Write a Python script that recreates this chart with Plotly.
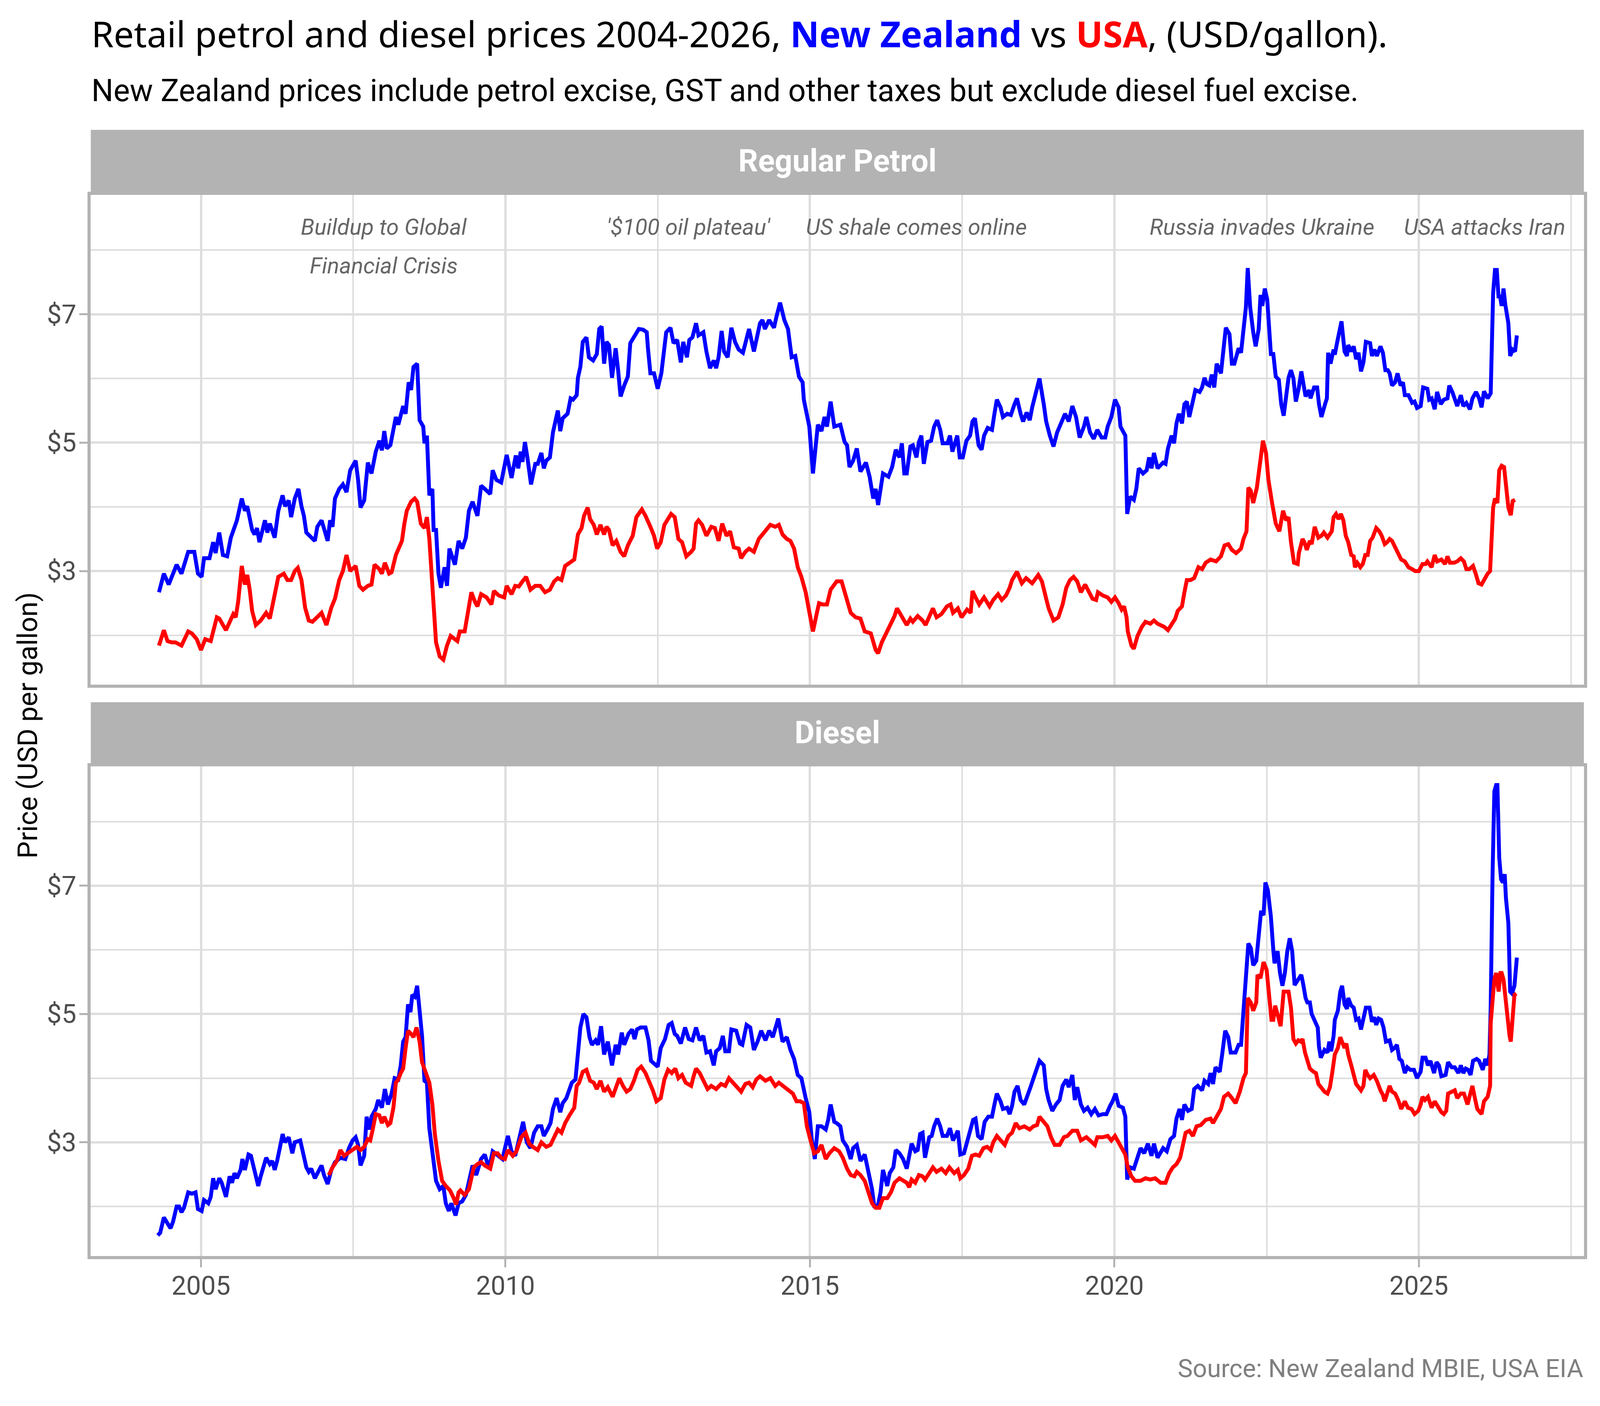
import plotly.graph_objects as go

# Weekly retail fuel prices (decimal year, USD per gallon)
nz_petrol = [
    (2004.31, 2.67), (2004.39, 2.96), (2004.47, 2.79), (2004.60, 3.10), (2004.68, 2.96), (2004.79, 3.30),
    (2004.89, 3.30), (2004.95, 2.96), (2005.01, 2.91), (2005.05, 3.20), (2005.14, 3.20), (2005.20, 3.45),
    (2005.24, 3.28), (2005.30, 3.60), (2005.36, 3.25), (2005.43, 3.23), (2005.49, 3.52), (2005.59, 3.79),
    (2005.67, 4.13), (2005.72, 3.94), (2005.76, 4.01), (2005.84, 3.64), (2005.88, 3.57), (2005.92, 3.67),
    (2005.96, 3.45), (2006.05, 3.79), (2006.09, 3.60), (2006.13, 3.74), (2006.21, 3.52), (2006.27, 3.94),
    (2006.34, 4.18), (2006.38, 4.01), (2006.44, 4.10), (2006.48, 3.84), (2006.54, 4.13), (2006.60, 4.28),
    (2006.65, 4.01), (2006.69, 3.86), (2006.73, 3.60), (2006.79, 3.55), (2006.87, 3.47), (2006.91, 3.69),
    (2006.98, 3.79), (2007.04, 3.60), (2007.08, 3.47), (2007.12, 3.79), (2007.16, 3.69), (2007.20, 4.13),
    (2007.27, 4.28), (2007.33, 4.35), (2007.39, 4.23), (2007.45, 4.57), (2007.54, 4.72), (2007.58, 4.42),
    (2007.62, 3.99), (2007.68, 4.10), (2007.74, 4.69), (2007.80, 4.52), (2007.87, 4.86), (2007.93, 5.03),
    (2007.97, 4.88), (2008.01, 5.18), (2008.05, 4.91), (2008.11, 4.96), (2008.16, 5.25), (2008.20, 5.40),
    (2008.24, 5.28), (2008.28, 5.45), (2008.32, 5.57), (2008.36, 5.45), (2008.41, 5.94), (2008.45, 5.82),
    (2008.49, 6.18), (2008.55, 6.23), (2008.59, 5.35), (2008.65, 5.25), (2008.67, 4.99), (2008.71, 5.11),
    (2008.75, 4.18), (2008.80, 4.28), (2008.82, 3.64), (2008.86, 3.64), (2008.90, 2.96), (2008.94, 2.74),
    (2009.00, 3.06), (2009.04, 2.77), (2009.08, 3.35), (2009.17, 3.10), (2009.23, 3.47), (2009.29, 3.35),
    (2009.35, 3.52), (2009.40, 3.94), (2009.46, 4.08), (2009.54, 3.86), (2009.60, 4.33), (2009.66, 4.28),
    (2009.75, 4.20), (2009.79, 4.57), (2009.85, 4.42), (2009.93, 4.38), (2010.02, 4.81), (2010.10, 4.45),
    (2010.17, 4.80), (2010.21, 4.60), (2010.25, 4.86), (2010.28, 4.70), (2010.32, 5.01), (2010.36, 4.77),
    (2010.42, 4.35), (2010.49, 4.67), (2010.53, 4.67), (2010.59, 4.84), (2010.63, 4.60), (2010.67, 4.72),
    (2010.73, 4.77), (2010.78, 5.16), (2010.86, 5.50), (2010.90, 5.18), (2010.94, 5.38), (2011.02, 5.45),
    (2011.07, 5.69), (2011.11, 5.67), (2011.17, 5.74), (2011.19, 6.01), (2011.23, 6.18), (2011.27, 6.57),
    (2011.33, 6.64), (2011.37, 6.33), (2011.44, 6.28), (2011.50, 6.38), (2011.54, 6.77), (2011.58, 6.81),
    (2011.62, 6.23), (2011.66, 6.57), (2011.70, 6.52), (2011.75, 6.01), (2011.81, 6.47), (2011.85, 6.13),
    (2011.89, 5.72), (2011.95, 5.89), (2012.01, 6.03), (2012.05, 6.55), (2012.13, 6.69), (2012.19, 6.77),
    (2012.26, 6.76), (2012.32, 6.72), (2012.34, 6.47), (2012.38, 6.08), (2012.44, 6.08), (2012.50, 5.84),
    (2012.56, 6.08), (2012.60, 6.47), (2012.64, 6.72), (2012.71, 6.79), (2012.76, 6.55), (2012.82, 6.60),
    (2012.88, 6.25), (2012.92, 6.57), (2012.98, 6.33), (2013.02, 6.60), (2013.07, 6.64), (2013.13, 6.86),
    (2013.17, 6.67), (2013.25, 6.72), (2013.30, 6.42), (2013.36, 6.16), (2013.42, 6.28), (2013.46, 6.16),
    (2013.50, 6.33), (2013.55, 6.74), (2013.59, 6.42), (2013.65, 6.33), (2013.71, 6.79), (2013.77, 6.57),
    (2013.83, 6.45), (2013.90, 6.40), (2013.96, 6.64), (2014.00, 6.77), (2014.08, 6.42), (2014.12, 6.60),
    (2014.18, 6.86), (2014.22, 6.91), (2014.26, 6.77), (2014.33, 6.91), (2014.41, 6.79), (2014.45, 6.96),
    (2014.51, 7.18), (2014.58, 6.91), (2014.64, 6.77), (2014.70, 6.33), (2014.76, 6.35), (2014.82, 6.03),
    (2014.88, 5.94), (2014.90, 5.67), (2014.95, 5.45), (2014.99, 5.25), (2015.05, 4.52), (2015.09, 4.86),
    (2015.13, 5.28), (2015.19, 5.18), (2015.24, 5.40), (2015.28, 5.25), (2015.34, 5.64), (2015.40, 5.25),
    (2015.50, 5.28), (2015.57, 5.01), (2015.61, 4.96), (2015.65, 4.62), (2015.71, 4.72), (2015.77, 4.91),
    (2015.83, 4.55), (2015.92, 4.69), (2015.98, 4.47), (2016.04, 4.13), (2016.08, 4.28), (2016.12, 4.03),
    (2016.20, 4.52), (2016.29, 4.47), (2016.35, 4.62), (2016.41, 4.89), (2016.47, 4.77), (2016.51, 4.99),
    (2016.55, 4.52), (2016.59, 4.52), (2016.65, 4.94), (2016.69, 4.96), (2016.75, 4.77), (2016.79, 5.01),
    (2016.83, 5.11), (2016.87, 4.67), (2016.93, 5.01), (2016.99, 5.03), (2017.04, 5.25), (2017.09, 5.35),
    (2017.14, 5.20), (2017.18, 4.99), (2017.26, 4.99), (2017.30, 5.11), (2017.34, 4.86), (2017.42, 5.11),
    (2017.46, 4.77), (2017.51, 4.77), (2017.57, 5.03), (2017.63, 5.11), (2017.67, 5.33), (2017.71, 5.38),
    (2017.77, 4.96), (2017.82, 4.89), (2017.86, 5.11), (2017.92, 5.23), (2017.99, 5.20), (2018.03, 5.45),
    (2018.07, 5.67), (2018.13, 5.55), (2018.17, 5.40), (2018.24, 5.45), (2018.30, 5.43), (2018.36, 5.60),
    (2018.40, 5.69), (2018.46, 5.45), (2018.50, 5.33), (2018.56, 5.47), (2018.61, 5.35), (2018.65, 5.55),
    (2018.71, 5.77), (2018.77, 6.00), (2018.84, 5.60), (2018.88, 5.33), (2018.94, 5.11), (2019.00, 4.94),
    (2019.06, 5.16), (2019.12, 5.30), (2019.19, 5.45), (2019.25, 5.33), (2019.31, 5.57), (2019.37, 5.40),
    (2019.43, 5.08), (2019.50, 5.25), (2019.54, 5.40), (2019.60, 5.16), (2019.66, 5.06), (2019.72, 5.20),
    (2019.79, 5.08), (2019.85, 5.08), (2019.89, 5.25), (2019.95, 5.40), (2020.01, 5.67), (2020.07, 5.55),
    (2020.10, 5.25), (2020.18, 5.11), (2020.21, 3.89), (2020.26, 4.16), (2020.32, 4.11), (2020.36, 4.28),
    (2020.40, 4.60), (2020.47, 4.52), (2020.53, 4.57), (2020.57, 4.77), (2020.61, 4.60), (2020.65, 4.84),
    (2020.71, 4.60), (2020.80, 4.69), (2020.84, 4.67), (2020.88, 4.91), (2020.94, 5.11), (2020.98, 4.99),
    (2021.02, 5.30), (2021.06, 5.45), (2021.11, 5.30), (2021.15, 5.60), (2021.19, 5.64), (2021.23, 5.40),
    (2021.29, 5.69), (2021.33, 5.82), (2021.40, 5.79), (2021.44, 5.86), (2021.48, 6.01), (2021.52, 5.91),
    (2021.56, 5.89), (2021.60, 6.06), (2021.64, 5.86), (2021.68, 6.23), (2021.75, 6.08), (2021.79, 6.52),
    (2021.83, 6.79), (2021.89, 6.69), (2021.93, 6.23), (2021.97, 6.23), (2022.04, 6.47), (2022.08, 6.40),
    (2022.12, 6.77), (2022.16, 7.11), (2022.19, 7.72), (2022.23, 7.11), (2022.28, 6.72), (2022.32, 6.50),
    (2022.37, 6.77), (2022.40, 7.30), (2022.43, 7.13), (2022.47, 7.40), (2022.51, 7.23), (2022.55, 6.77),
    (2022.57, 6.38), (2022.61, 6.38), (2022.65, 6.03), (2022.70, 5.98), (2022.74, 5.60), (2022.78, 5.42),
    (2022.82, 5.74), (2022.86, 6.01), (2022.90, 6.13), (2022.94, 6.00), (2022.98, 5.64), (2023.01, 5.77),
    (2023.03, 5.86), (2023.07, 6.11), (2023.10, 5.91), (2023.14, 5.72), (2023.20, 5.82), (2023.22, 5.69),
    (2023.28, 5.86), (2023.33, 5.86), (2023.36, 5.60), (2023.40, 5.40), (2023.46, 5.60), (2023.49, 5.69),
    (2023.51, 6.40), (2023.55, 6.23), (2023.60, 6.45), (2023.62, 6.37), (2023.66, 6.57), (2023.71, 6.84),
    (2023.73, 6.89), (2023.78, 6.42), (2023.82, 6.35), (2023.84, 6.52), (2023.89, 6.42), (2023.93, 6.50),
    (2023.97, 6.30), (2024.01, 6.40), (2024.05, 6.11), (2024.09, 6.25), (2024.13, 6.57), (2024.20, 6.55),
    (2024.23, 6.35), (2024.27, 6.45), (2024.31, 6.35), (2024.37, 6.50), (2024.41, 6.40), (2024.45, 6.13),
    (2024.49, 6.13), (2024.52, 6.08), (2024.56, 5.89), (2024.61, 5.94), (2024.65, 6.08), (2024.70, 5.89),
    (2024.74, 5.94), (2024.77, 5.74), (2024.83, 5.74), (2024.89, 5.62), (2024.93, 5.64), (2024.97, 5.54),
    (2025.03, 5.57), (2025.07, 5.86), (2025.14, 5.84), (2025.17, 5.67), (2025.21, 5.69), (2025.26, 5.52),
    (2025.30, 5.79), (2025.36, 5.60), (2025.41, 5.67), (2025.47, 5.69), (2025.50, 5.89), (2025.55, 5.79),
    (2025.59, 5.69), (2025.63, 5.57), (2025.69, 5.74), (2025.73, 5.57), (2025.78, 5.62), (2025.84, 5.52),
    (2025.88, 5.69), (2025.94, 5.79), (2025.99, 5.69), (2026.03, 5.55), (2026.07, 5.80), (2026.13, 5.69),
    (2026.18, 5.77), (2026.21, 6.96), (2026.22, 7.33), (2026.25, 7.69), (2026.28, 7.69), (2026.31, 7.25),
    (2026.33, 7.30), (2026.36, 7.13), (2026.39, 7.40), (2026.42, 7.15), (2026.44, 7.05), (2026.47, 6.86),
    (2026.50, 6.35), (2026.54, 6.45), (2026.58, 6.42), (2026.61, 6.67),
]

usa_petrol = [
    (2004.31, 1.84), (2004.39, 2.08), (2004.45, 1.91), (2004.52, 1.89), (2004.58, 1.89), (2004.68, 1.84),
    (2004.79, 2.06), (2004.85, 2.03), (2004.93, 1.94), (2005.00, 1.77), (2005.07, 1.94), (2005.16, 1.91),
    (2005.26, 2.28), (2005.30, 2.26), (2005.41, 2.08), (2005.49, 2.26), (2005.53, 2.33), (2005.57, 2.28),
    (2005.61, 2.52), (2005.67, 3.08), (2005.72, 2.79), (2005.76, 2.94), (2005.80, 2.71), (2005.84, 2.38),
    (2005.90, 2.16), (2005.98, 2.23), (2006.07, 2.35), (2006.13, 2.26), (2006.19, 2.52), (2006.27, 2.91),
    (2006.36, 2.96), (2006.42, 2.86), (2006.48, 2.86), (2006.54, 3.00), (2006.59, 3.05), (2006.65, 2.86),
    (2006.71, 2.43), (2006.77, 2.23), (2006.83, 2.21), (2006.91, 2.28), (2006.98, 2.35), (2007.06, 2.16),
    (2007.14, 2.43), (2007.20, 2.57), (2007.27, 2.86), (2007.33, 3.00), (2007.39, 3.25), (2007.45, 3.00),
    (2007.54, 3.08), (2007.60, 2.77), (2007.66, 2.71), (2007.74, 2.77), (2007.80, 2.79), (2007.85, 3.10),
    (2007.93, 3.03), (2007.97, 2.96), (2008.02, 3.13), (2008.09, 2.96), (2008.13, 2.98), (2008.20, 3.25),
    (2008.24, 3.33), (2008.30, 3.47), (2008.34, 3.74), (2008.38, 3.94), (2008.45, 4.08), (2008.51, 4.13),
    (2008.55, 4.08), (2008.61, 3.74), (2008.67, 3.67), (2008.71, 3.84), (2008.75, 3.50), (2008.80, 2.81),
    (2008.86, 1.89), (2008.92, 1.67), (2008.98, 1.62), (2009.04, 1.84), (2009.10, 1.99), (2009.21, 1.91),
    (2009.25, 2.06), (2009.33, 2.06), (2009.37, 2.28), (2009.44, 2.67), (2009.50, 2.52), (2009.54, 2.45),
    (2009.60, 2.64), (2009.69, 2.59), (2009.77, 2.48), (2009.81, 2.69), (2009.89, 2.62), (2009.98, 2.59),
    (2010.02, 2.77), (2010.10, 2.64), (2010.16, 2.77), (2010.22, 2.76), (2010.28, 2.84), (2010.34, 2.91),
    (2010.41, 2.71), (2010.49, 2.77), (2010.57, 2.77), (2010.65, 2.67), (2010.73, 2.71), (2010.80, 2.84),
    (2010.86, 2.89), (2010.92, 2.86), (2010.98, 3.08), (2011.07, 3.13), (2011.13, 3.18), (2011.19, 3.57),
    (2011.25, 3.67), (2011.29, 3.86), (2011.35, 3.99), (2011.39, 3.81), (2011.45, 3.72), (2011.50, 3.57),
    (2011.56, 3.72), (2011.62, 3.57), (2011.66, 3.69), (2011.70, 3.64), (2011.76, 3.40), (2011.82, 3.47),
    (2011.89, 3.30), (2011.95, 3.23), (2012.01, 3.40), (2012.09, 3.55), (2012.15, 3.84), (2012.24, 3.96),
    (2012.30, 3.86), (2012.38, 3.69), (2012.44, 3.55), (2012.49, 3.35), (2012.55, 3.45), (2012.61, 3.72),
    (2012.65, 3.79), (2012.72, 3.89), (2012.78, 3.84), (2012.84, 3.50), (2012.90, 3.45), (2012.97, 3.23),
    (2013.05, 3.30), (2013.09, 3.35), (2013.13, 3.74), (2013.17, 3.79), (2013.23, 3.72), (2013.30, 3.55),
    (2013.38, 3.69), (2013.44, 3.67), (2013.50, 3.47), (2013.56, 3.74), (2013.63, 3.55), (2013.69, 3.62),
    (2013.75, 3.37), (2013.83, 3.35), (2013.87, 3.20), (2013.94, 3.30), (2014.00, 3.35), (2014.08, 3.30),
    (2014.16, 3.50), (2014.22, 3.57), (2014.29, 3.67), (2014.35, 3.72), (2014.43, 3.69), (2014.49, 3.72),
    (2014.55, 3.57), (2014.62, 3.50), (2014.68, 3.47), (2014.74, 3.35), (2014.80, 3.06), (2014.86, 2.91),
    (2014.93, 2.67), (2014.99, 2.33), (2015.05, 2.06), (2015.11, 2.33), (2015.15, 2.50), (2015.21, 2.48),
    (2015.28, 2.48), (2015.34, 2.71), (2015.44, 2.84), (2015.52, 2.84), (2015.61, 2.55), (2015.67, 2.35),
    (2015.75, 2.28), (2015.83, 2.26), (2015.90, 2.06), (2016.00, 2.03), (2016.08, 1.77), (2016.12, 1.72),
    (2016.18, 1.89), (2016.25, 2.03), (2016.33, 2.18), (2016.39, 2.30), (2016.43, 2.42), (2016.51, 2.28),
    (2016.59, 2.16), (2016.65, 2.26), (2016.69, 2.21), (2016.77, 2.30), (2016.85, 2.23), (2016.90, 2.16),
    (2016.96, 2.28), (2017.02, 2.42), (2017.08, 2.28), (2017.16, 2.33), (2017.25, 2.45), (2017.31, 2.48),
    (2017.35, 2.35), (2017.43, 2.42), (2017.49, 2.28), (2017.58, 2.40), (2017.64, 2.35), (2017.67, 2.69),
    (2017.72, 2.59), (2017.78, 2.48), (2017.86, 2.59), (2017.95, 2.45), (2018.01, 2.55), (2018.09, 2.64),
    (2018.15, 2.55), (2018.22, 2.62), (2018.28, 2.74), (2018.32, 2.86), (2018.40, 2.99), (2018.48, 2.81),
    (2018.55, 2.89), (2018.65, 2.81), (2018.75, 2.94), (2018.81, 2.84), (2018.88, 2.57), (2018.92, 2.42),
    (2019.00, 2.23), (2019.08, 2.28), (2019.15, 2.48), (2019.21, 2.74), (2019.27, 2.86), (2019.33, 2.91),
    (2019.39, 2.84), (2019.45, 2.67), (2019.52, 2.79), (2019.58, 2.67), (2019.64, 2.57), (2019.70, 2.55),
    (2019.73, 2.67), (2019.81, 2.62), (2019.89, 2.59), (2019.95, 2.52), (2020.01, 2.59), (2020.07, 2.50),
    (2020.12, 2.40), (2020.16, 2.45), (2020.20, 2.28), (2020.22, 2.06), (2020.28, 1.84), (2020.32, 1.79),
    (2020.38, 1.99), (2020.45, 2.13), (2020.51, 2.21), (2020.59, 2.18), (2020.65, 2.23), (2020.71, 2.18),
    (2020.82, 2.13), (2020.88, 2.08), (2020.94, 2.16), (2021.00, 2.26), (2021.04, 2.38), (2021.11, 2.45),
    (2021.15, 2.67), (2021.19, 2.86), (2021.25, 2.86), (2021.31, 2.89), (2021.38, 3.06), (2021.44, 3.03),
    (2021.50, 3.13), (2021.58, 3.18), (2021.67, 3.15), (2021.75, 3.23), (2021.81, 3.40), (2021.87, 3.42),
    (2021.93, 3.33), (2022.00, 3.28), (2022.08, 3.35), (2022.12, 3.50), (2022.17, 3.62), (2022.20, 4.30),
    (2022.24, 4.25), (2022.28, 4.06), (2022.34, 4.30), (2022.39, 4.62), (2022.44, 5.03), (2022.49, 4.84),
    (2022.53, 4.42), (2022.59, 4.06), (2022.65, 3.74), (2022.71, 3.62), (2022.77, 3.94), (2022.82, 3.79),
    (2022.86, 3.84), (2022.90, 3.45), (2022.95, 3.13), (2023.01, 3.11), (2023.03, 3.28), (2023.09, 3.50),
    (2023.12, 3.45), (2023.16, 3.33), (2023.21, 3.47), (2023.24, 3.42), (2023.29, 3.69), (2023.35, 3.52),
    (2023.40, 3.55), (2023.44, 3.60), (2023.50, 3.52), (2023.57, 3.62), (2023.60, 3.84), (2023.64, 3.89),
    (2023.68, 3.81), (2023.72, 3.89), (2023.76, 3.79), (2023.80, 3.55), (2023.84, 3.45), (2023.89, 3.25),
    (2023.93, 3.23), (2023.95, 3.06), (2023.99, 3.13), (2024.04, 3.06), (2024.08, 3.11), (2024.12, 3.25),
    (2024.16, 3.25), (2024.20, 3.47), (2024.24, 3.52), (2024.30, 3.67), (2024.35, 3.62), (2024.39, 3.55),
    (2024.44, 3.42), (2024.48, 3.45), (2024.52, 3.50), (2024.56, 3.47), (2024.61, 3.37), (2024.65, 3.30),
    (2024.71, 3.18), (2024.77, 3.15), (2024.83, 3.06), (2024.89, 3.03), (2024.94, 3.00), (2025.00, 3.00),
    (2025.06, 3.11), (2025.11, 3.11), (2025.14, 3.15), (2025.21, 3.06), (2025.26, 3.25), (2025.30, 3.15),
    (2025.37, 3.18), (2025.43, 3.11), (2025.47, 3.23), (2025.51, 3.13), (2025.58, 3.13), (2025.63, 3.15),
    (2025.69, 3.20), (2025.74, 3.15), (2025.78, 3.03), (2025.83, 3.03), (2025.89, 3.08), (2025.94, 2.94),
    (2025.98, 2.81), (2026.03, 2.79), (2026.07, 2.86), (2026.13, 2.96), (2026.17, 3.00), (2026.20, 3.55),
    (2026.22, 3.99), (2026.25, 4.13), (2026.29, 4.06), (2026.32, 4.57), (2026.36, 4.64), (2026.40, 4.62),
    (2026.43, 4.30), (2026.47, 3.99), (2026.51, 3.87), (2026.54, 4.09), (2026.58, 4.11),
]

nz_diesel = [
    (2004.29, 1.55), (2004.33, 1.59), (2004.39, 1.83), (2004.45, 1.74), (2004.50, 1.66), (2004.54, 1.76),
    (2004.60, 2.00), (2004.64, 2.00), (2004.68, 1.91), (2004.72, 1.98), (2004.79, 2.22), (2004.85, 2.20),
    (2004.91, 2.22), (2004.95, 1.96), (2005.01, 1.93), (2005.05, 2.10), (2005.12, 2.05), (2005.16, 2.15),
    (2005.20, 2.44), (2005.24, 2.27), (2005.30, 2.44), (2005.34, 2.37), (2005.41, 2.15), (2005.47, 2.47),
    (2005.51, 2.37), (2005.55, 2.52), (2005.59, 2.44), (2005.65, 2.57), (2005.68, 2.74), (2005.72, 2.57),
    (2005.78, 2.81), (2005.82, 2.79), (2005.88, 2.52), (2005.94, 2.32), (2005.98, 2.47), (2006.03, 2.61),
    (2006.07, 2.76), (2006.13, 2.66), (2006.17, 2.71), (2006.21, 2.57), (2006.25, 2.71), (2006.32, 3.03),
    (2006.34, 3.13), (2006.38, 3.00), (2006.44, 3.08), (2006.50, 2.83), (2006.54, 3.00), (2006.63, 3.03),
    (2006.67, 2.88), (2006.73, 2.61), (2006.77, 2.54), (2006.81, 2.59), (2006.87, 2.44), (2006.94, 2.57),
    (2006.98, 2.64), (2007.02, 2.49), (2007.08, 2.35), (2007.14, 2.57), (2007.20, 2.69), (2007.29, 2.76),
    (2007.37, 2.74), (2007.43, 2.91), (2007.49, 3.03), (2007.54, 3.08), (2007.58, 2.96), (2007.62, 2.64),
    (2007.68, 2.79), (2007.72, 3.40), (2007.76, 3.20), (2007.80, 3.40), (2007.87, 3.52), (2007.91, 3.66),
    (2007.97, 3.54), (2008.02, 3.83), (2008.07, 3.59), (2008.13, 3.76), (2008.18, 4.00), (2008.24, 3.98),
    (2008.28, 4.20), (2008.32, 4.57), (2008.36, 4.64), (2008.40, 5.15), (2008.44, 5.03), (2008.47, 5.30),
    (2008.51, 5.27), (2008.55, 5.44), (2008.59, 4.96), (2008.63, 4.66), (2008.67, 3.96), (2008.71, 3.93),
    (2008.75, 3.22), (2008.80, 2.79), (2008.86, 2.40), (2008.92, 2.27), (2008.98, 2.32), (2009.02, 2.05),
    (2009.07, 1.93), (2009.11, 2.05), (2009.18, 1.86), (2009.23, 2.05), (2009.29, 2.08), (2009.35, 2.18),
    (2009.40, 2.42), (2009.46, 2.64), (2009.52, 2.49), (2009.60, 2.74), (2009.66, 2.81), (2009.73, 2.59),
    (2009.79, 2.86), (2009.85, 2.81), (2009.95, 2.74), (2010.04, 3.10), (2010.10, 2.86), (2010.16, 2.79),
    (2010.24, 3.15), (2010.29, 3.32), (2010.35, 3.00), (2010.41, 2.91), (2010.47, 3.15), (2010.53, 3.25),
    (2010.59, 3.25), (2010.63, 3.10), (2010.70, 3.22), (2010.74, 3.30), (2010.78, 3.52), (2010.84, 3.69),
    (2010.90, 3.47), (2010.94, 3.61), (2011.00, 3.69), (2011.05, 3.81), (2011.09, 3.93), (2011.15, 3.98),
    (2011.19, 4.42), (2011.23, 4.79), (2011.28, 5.00), (2011.33, 4.95), (2011.38, 4.64), (2011.42, 4.52),
    (2011.48, 4.59), (2011.52, 4.52), (2011.57, 4.81), (2011.62, 4.37), (2011.68, 4.57), (2011.75, 4.20),
    (2011.81, 4.52), (2011.85, 4.37), (2011.91, 4.71), (2011.95, 4.52), (2012.02, 4.69), (2012.08, 4.76),
    (2012.12, 4.61), (2012.16, 4.76), (2012.22, 4.79), (2012.30, 4.79), (2012.35, 4.59), (2012.39, 4.27),
    (2012.45, 4.22), (2012.50, 4.18), (2012.55, 4.47), (2012.62, 4.61), (2012.68, 4.83), (2012.73, 4.86),
    (2012.78, 4.69), (2012.82, 4.66), (2012.88, 4.54), (2012.95, 4.79), (2013.01, 4.61), (2013.07, 4.59),
    (2013.13, 4.79), (2013.19, 4.59), (2013.25, 4.66), (2013.30, 4.40), (2013.36, 4.42), (2013.42, 4.20),
    (2013.46, 4.42), (2013.52, 4.47), (2013.57, 4.66), (2013.61, 4.42), (2013.67, 4.42), (2013.71, 4.76),
    (2013.79, 4.74), (2013.85, 4.54), (2013.89, 4.52), (2013.96, 4.83), (2014.02, 4.79), (2014.08, 4.44),
    (2014.14, 4.57), (2014.20, 4.74), (2014.27, 4.59), (2014.33, 4.74), (2014.39, 4.64), (2014.43, 4.76),
    (2014.48, 4.93), (2014.55, 4.57), (2014.62, 4.64), (2014.68, 4.44), (2014.74, 4.30), (2014.80, 4.05),
    (2014.86, 4.00), (2014.93, 3.69), (2014.99, 3.47), (2015.03, 3.05), (2015.08, 2.74), (2015.13, 3.25),
    (2015.19, 3.25), (2015.26, 3.20), (2015.30, 3.35), (2015.34, 3.59), (2015.40, 3.32), (2015.44, 3.30),
    (2015.50, 3.25), (2015.54, 3.03), (2015.61, 2.93), (2015.67, 2.74), (2015.71, 2.91), (2015.77, 2.96),
    (2015.83, 2.71), (2015.90, 2.81), (2015.94, 2.61), (2015.98, 2.42), (2016.02, 2.27), (2016.06, 1.98),
    (2016.12, 2.03), (2016.16, 2.22), (2016.20, 2.57), (2016.27, 2.32), (2016.31, 2.52), (2016.37, 2.61),
    (2016.41, 2.88), (2016.47, 2.83), (2016.53, 2.74), (2016.59, 2.59), (2016.63, 2.83), (2016.67, 2.98),
    (2016.73, 2.86), (2016.77, 2.88), (2016.81, 3.13), (2016.85, 3.15), (2016.89, 2.76), (2016.96, 3.08),
    (2017.00, 3.10), (2017.04, 3.25), (2017.09, 3.37), (2017.14, 3.25), (2017.18, 3.10), (2017.25, 3.10),
    (2017.30, 3.22), (2017.35, 3.03), (2017.43, 3.18), (2017.47, 2.81), (2017.53, 2.83), (2017.60, 3.10),
    (2017.64, 3.20), (2017.68, 3.35), (2017.72, 3.37), (2017.76, 3.10), (2017.82, 3.05), (2017.87, 3.32),
    (2017.93, 3.40), (2017.99, 3.40), (2018.03, 3.59), (2018.07, 3.76), (2018.13, 3.64), (2018.17, 3.52),
    (2018.24, 3.54), (2018.28, 3.44), (2018.32, 3.57), (2018.36, 3.79), (2018.41, 3.88), (2018.46, 3.66),
    (2018.52, 3.59), (2018.57, 3.71), (2018.63, 3.88), (2018.69, 4.05), (2018.73, 4.15), (2018.77, 4.27),
    (2018.84, 4.20), (2018.88, 3.83), (2018.92, 3.66), (2018.98, 3.49), (2019.04, 3.59), (2019.10, 3.66),
    (2019.15, 3.88), (2019.21, 3.98), (2019.25, 3.86), (2019.31, 4.05), (2019.35, 3.66), (2019.39, 3.86),
    (2019.45, 3.59), (2019.50, 3.49), (2019.56, 3.54), (2019.62, 3.44), (2019.68, 3.52), (2019.74, 3.42),
    (2019.81, 3.44), (2019.87, 3.44), (2019.93, 3.57), (2019.97, 3.64), (2020.02, 3.76), (2020.07, 3.57),
    (2020.14, 3.54), (2020.18, 3.40), (2020.21, 2.42), (2020.26, 2.61), (2020.32, 2.59), (2020.36, 2.71),
    (2020.43, 2.91), (2020.49, 2.83), (2020.55, 2.98), (2020.61, 2.79), (2020.65, 2.98), (2020.71, 2.76),
    (2020.80, 2.91), (2020.86, 2.86), (2020.92, 3.05), (2020.98, 3.10), (2021.02, 3.37), (2021.07, 3.52),
    (2021.11, 3.35), (2021.15, 3.59), (2021.21, 3.49), (2021.27, 3.52), (2021.31, 3.83), (2021.37, 3.88),
    (2021.44, 3.81), (2021.48, 3.96), (2021.54, 3.91), (2021.58, 4.08), (2021.62, 3.91), (2021.66, 4.17),
    (2021.73, 4.10), (2021.77, 4.37), (2021.82, 4.74), (2021.87, 4.64), (2021.91, 4.40), (2021.99, 4.40),
    (2022.04, 4.52), (2022.08, 4.52), (2022.12, 5.00), (2022.16, 5.59), (2022.20, 6.10), (2022.24, 6.03),
    (2022.28, 5.76), (2022.33, 5.83), (2022.37, 6.18), (2022.41, 6.61), (2022.45, 6.54), (2022.48, 7.05),
    (2022.52, 6.93), (2022.57, 6.52), (2022.61, 6.00), (2022.63, 5.79), (2022.68, 5.98), (2022.72, 5.64),
    (2022.76, 5.44), (2022.80, 5.64), (2022.84, 5.98), (2022.88, 6.18), (2022.92, 5.98), (2022.96, 5.45),
    (2023.02, 5.54), (2023.07, 5.61), (2023.10, 5.47), (2023.14, 5.25), (2023.17, 5.18), (2023.21, 5.18),
    (2023.24, 5.00), (2023.29, 4.91), (2023.34, 4.79), (2023.36, 4.49), (2023.39, 4.32), (2023.45, 4.44),
    (2023.50, 4.40), (2023.53, 4.57), (2023.56, 4.42), (2023.60, 4.66), (2023.62, 4.91), (2023.67, 5.05),
    (2023.71, 5.35), (2023.74, 5.44), (2023.78, 5.15), (2023.82, 5.08), (2023.84, 5.25), (2023.89, 5.13),
    (2023.93, 5.10), (2023.97, 4.91), (2024.01, 4.93), (2024.05, 4.76), (2024.09, 4.95), (2024.13, 5.10),
    (2024.19, 5.10), (2024.23, 4.88), (2024.27, 4.95), (2024.30, 4.83), (2024.34, 4.93), (2024.38, 4.91),
    (2024.42, 4.79), (2024.46, 4.57), (2024.52, 4.59), (2024.56, 4.44), (2024.60, 4.47), (2024.64, 4.52),
    (2024.68, 4.30), (2024.72, 4.27), (2024.77, 4.08), (2024.81, 4.17), (2024.86, 4.13), (2024.92, 4.13),
    (2024.97, 4.00), (2025.03, 4.10), (2025.06, 4.32), (2025.11, 4.32), (2025.15, 4.20), (2025.19, 4.27),
    (2025.25, 4.08), (2025.29, 4.25), (2025.33, 4.20), (2025.37, 4.03), (2025.44, 4.05), (2025.48, 4.25),
    (2025.54, 4.17), (2025.59, 4.17), (2025.65, 4.08), (2025.69, 4.20), (2025.73, 4.08), (2025.77, 4.15),
    (2025.81, 4.13), (2025.85, 4.05), (2025.89, 4.27), (2025.95, 4.30), (2025.99, 4.27), (2026.05, 4.13),
    (2026.09, 4.30), (2026.13, 4.20), (2026.16, 4.37), (2026.18, 5.10), (2026.21, 7.15), (2026.24, 8.47),
    (2026.27, 8.57), (2026.29, 8.57), (2026.32, 7.44), (2026.35, 7.10), (2026.38, 7.05), (2026.41, 7.18),
    (2026.43, 6.81), (2026.47, 6.42), (2026.50, 5.35), (2026.53, 5.32), (2026.57, 5.44), (2026.61, 5.88),
]

usa_diesel = [
    (2007.10, 2.49), (2007.16, 2.61), (2007.23, 2.71), (2007.29, 2.88), (2007.35, 2.79), (2007.41, 2.83),
    (2007.47, 2.86), (2007.56, 2.93), (2007.62, 2.88), (2007.68, 2.93), (2007.74, 3.05), (2007.78, 3.03),
    (2007.82, 3.20), (2007.87, 3.44), (2007.93, 3.42), (2007.97, 3.30), (2008.01, 3.40), (2008.07, 3.27),
    (2008.11, 3.30), (2008.16, 3.54), (2008.20, 3.93), (2008.24, 3.98), (2008.28, 4.08), (2008.32, 4.15),
    (2008.36, 4.47), (2008.40, 4.74), (2008.45, 4.69), (2008.49, 4.64), (2008.54, 4.79), (2008.59, 4.57),
    (2008.63, 4.25), (2008.67, 4.13), (2008.71, 4.00), (2008.75, 3.93), (2008.80, 3.59), (2008.84, 3.13),
    (2008.90, 2.71), (2008.96, 2.40), (2009.02, 2.32), (2009.09, 2.25), (2009.15, 2.13), (2009.19, 2.03),
    (2009.23, 2.22), (2009.26, 2.25), (2009.33, 2.18), (2009.40, 2.27), (2009.44, 2.44), (2009.48, 2.61),
    (2009.54, 2.66), (2009.60, 2.69), (2009.66, 2.64), (2009.75, 2.59), (2009.81, 2.83), (2009.87, 2.83),
    (2009.93, 2.76), (2009.99, 2.74), (2010.04, 2.88), (2010.12, 2.79), (2010.18, 2.86), (2010.26, 3.08),
    (2010.33, 3.15), (2010.39, 2.98), (2010.45, 2.93), (2010.53, 2.88), (2010.59, 3.00), (2010.67, 2.93),
    (2010.74, 2.96), (2010.80, 3.10), (2010.86, 3.20), (2010.92, 3.15), (2010.98, 3.30), (2011.05, 3.42),
    (2011.09, 3.49), (2011.13, 3.54), (2011.17, 3.88), (2011.21, 3.93), (2011.27, 4.10), (2011.33, 4.13),
    (2011.39, 3.96), (2011.45, 3.93), (2011.50, 3.83), (2011.56, 3.96), (2011.62, 3.79), (2011.68, 3.86),
    (2011.76, 3.71), (2011.82, 3.88), (2011.87, 4.00), (2011.93, 3.88), (2011.99, 3.79), (2012.05, 3.83),
    (2012.11, 3.96), (2012.17, 4.13), (2012.23, 4.18), (2012.30, 4.08), (2012.36, 3.96), (2012.42, 3.81),
    (2012.48, 3.64), (2012.55, 3.69), (2012.61, 3.98), (2012.67, 4.13), (2012.73, 4.08), (2012.79, 4.15),
    (2012.84, 4.00), (2012.90, 4.05), (2012.96, 3.93), (2013.05, 3.88), (2013.09, 4.03), (2013.13, 4.15),
    (2013.19, 4.08), (2013.25, 3.96), (2013.32, 3.83), (2013.38, 3.88), (2013.46, 3.83), (2013.54, 3.91),
    (2013.61, 3.88), (2013.67, 4.00), (2013.73, 3.93), (2013.79, 3.88), (2013.87, 3.79), (2013.94, 3.91),
    (2014.00, 3.93), (2014.06, 3.86), (2014.12, 3.98), (2014.18, 4.03), (2014.27, 3.96), (2014.35, 4.00),
    (2014.43, 3.88), (2014.49, 3.93), (2014.58, 3.86), (2014.66, 3.81), (2014.72, 3.76), (2014.78, 3.64),
    (2014.84, 3.64), (2014.90, 3.61), (2014.95, 3.25), (2015.01, 3.03), (2015.07, 2.83), (2015.13, 2.86),
    (2015.19, 2.96), (2015.26, 2.74), (2015.32, 2.83), (2015.40, 2.91), (2015.48, 2.86), (2015.54, 2.76),
    (2015.61, 2.59), (2015.67, 2.49), (2015.73, 2.47), (2015.77, 2.54), (2015.83, 2.49), (2015.90, 2.40),
    (2015.96, 2.22), (2016.02, 2.05), (2016.08, 1.98), (2016.14, 1.98), (2016.20, 2.13), (2016.27, 2.13),
    (2016.33, 2.22), (2016.39, 2.37), (2016.47, 2.44), (2016.53, 2.40), (2016.59, 2.37), (2016.63, 2.30),
    (2016.67, 2.42), (2016.73, 2.37), (2016.79, 2.49), (2016.85, 2.47), (2016.89, 2.42), (2016.96, 2.52),
    (2017.02, 2.61), (2017.08, 2.54), (2017.16, 2.59), (2017.23, 2.52), (2017.29, 2.61), (2017.37, 2.52),
    (2017.43, 2.57), (2017.47, 2.44), (2017.53, 2.49), (2017.60, 2.59), (2017.66, 2.79), (2017.72, 2.81),
    (2017.78, 2.79), (2017.85, 2.91), (2017.91, 2.93), (2017.97, 2.88), (2018.01, 3.00), (2018.07, 3.10),
    (2018.13, 3.03), (2018.20, 2.96), (2018.26, 3.10), (2018.32, 3.15), (2018.38, 3.30), (2018.44, 3.22),
    (2018.52, 3.25), (2018.61, 3.20), (2018.67, 3.25), (2018.73, 3.27), (2018.77, 3.40), (2018.84, 3.32),
    (2018.90, 3.25), (2018.96, 3.08), (2019.02, 2.96), (2019.10, 2.96), (2019.17, 3.08), (2019.23, 3.10),
    (2019.31, 3.18), (2019.39, 3.18), (2019.45, 3.03), (2019.54, 3.08), (2019.62, 3.00), (2019.68, 2.96),
    (2019.72, 3.08), (2019.81, 3.08), (2019.89, 3.10), (2019.95, 3.03), (2020.01, 3.10), (2020.07, 3.00),
    (2020.12, 2.91), (2020.18, 2.81), (2020.22, 2.61), (2020.28, 2.47), (2020.34, 2.40), (2020.43, 2.40),
    (2020.51, 2.44), (2020.59, 2.42), (2020.67, 2.44), (2020.76, 2.37), (2020.84, 2.37), (2020.90, 2.52),
    (2020.96, 2.61), (2021.02, 2.66), (2021.08, 2.76), (2021.13, 2.96), (2021.17, 3.15), (2021.23, 3.18),
    (2021.29, 3.10), (2021.35, 3.25), (2021.42, 3.27), (2021.50, 3.35), (2021.58, 3.37), (2021.62, 3.30),
    (2021.68, 3.40), (2021.75, 3.52), (2021.80, 3.71), (2021.87, 3.76), (2021.93, 3.69), (2021.99, 3.61),
    (2022.06, 3.79), (2022.12, 4.00), (2022.16, 4.08), (2022.19, 5.25), (2022.24, 5.18), (2022.28, 5.05),
    (2022.33, 5.18), (2022.35, 5.61), (2022.40, 5.56), (2022.45, 5.81), (2022.50, 5.69), (2022.55, 5.25),
    (2022.58, 4.91), (2022.61, 4.91), (2022.64, 5.13), (2022.69, 4.96), (2022.73, 4.81), (2022.78, 5.35),
    (2022.82, 5.35), (2022.86, 5.35), (2022.90, 5.10), (2022.94, 4.61), (2022.98, 4.54), (2023.02, 4.59),
    (2023.06, 4.57), (2023.09, 4.61), (2023.13, 4.40), (2023.17, 4.27), (2023.21, 4.15), (2023.27, 4.10),
    (2023.31, 4.08), (2023.35, 3.91), (2023.39, 3.86), (2023.45, 3.79), (2023.50, 3.76), (2023.54, 3.86),
    (2023.58, 4.10), (2023.62, 4.37), (2023.67, 4.47), (2023.71, 4.64), (2023.75, 4.54), (2023.78, 4.47),
    (2023.81, 4.54), (2023.84, 4.37), (2023.89, 4.20), (2023.93, 4.08), (2023.97, 3.91), (2024.01, 3.86),
    (2024.05, 3.81), (2024.09, 3.88), (2024.12, 4.13), (2024.16, 4.05), (2024.20, 4.00), (2024.26, 4.05),
    (2024.31, 3.96), (2024.37, 3.81), (2024.41, 3.74), (2024.44, 3.64), (2024.48, 3.76), (2024.52, 3.88),
    (2024.56, 3.79), (2024.61, 3.76), (2024.66, 3.66), (2024.71, 3.52), (2024.77, 3.64), (2024.82, 3.54),
    (2024.88, 3.52), (2024.93, 3.44), (2024.99, 3.49), (2025.03, 3.59), (2025.06, 3.71), (2025.10, 3.66),
    (2025.15, 3.71), (2025.21, 3.54), (2025.26, 3.64), (2025.30, 3.57), (2025.37, 3.47), (2025.41, 3.44),
    (2025.45, 3.49), (2025.48, 3.76), (2025.54, 3.79), (2025.59, 3.81), (2025.63, 3.69), (2025.69, 3.76),
    (2025.74, 3.76), (2025.80, 3.59), (2025.84, 3.74), (2025.88, 3.88), (2025.92, 3.69), (2025.96, 3.52),
    (2026.03, 3.44), (2026.07, 3.64), (2026.13, 3.71), (2026.17, 3.88), (2026.18, 4.86), (2026.21, 5.13),
    (2026.24, 5.54), (2026.27, 5.64), (2026.31, 5.35), (2026.34, 5.64), (2026.36, 5.64), (2026.39, 5.54),
    (2026.42, 5.25), (2026.45, 4.96), (2026.49, 4.66), (2026.51, 4.57), (2026.54, 4.91), (2026.57, 5.30),
    (2026.60, 5.32),
]

panel_names = ["Regular Petrol", "Diesel"]

# event labels shown in the petrol panel
event_text = ["Buildup to Global", "Financial Crisis", "'$100 oil plateau'",
              "US shale comes online", "Russia invades Ukraine", "USA attacks Iran"]
event_year = [2008.0, 2008.0, 2013.01, 2016.75, 2022.42, 2026.08]
event_price = [8.36, 7.76, 8.36, 8.36, 8.36, 8.36]

x_tick_vals = [2005, 2010, 2015, 2020, 2025]
x_tick_text = ["2005", "2010", "2015", "2020", "2025"]
y_tick_vals = [3, 5, 7]
y_tick_text = ["$3", "$5", "$7"]

NZ_COL = "#0000FF"
US_COL = "#FF0000"
GRID = "#DEDEDE"
GREY70 = "#B3B3B3"

# Layout measured on the 6000x3600 reference. The figure fills the window, so every
# position is kept as a fraction of the page (no margins) and only sizes are in px.
# The window comes out narrower than the reference, so text is shrunk by F to fit.
W, H = 6000, 3600
F = 0.85
TICKLEN = 21


def fx(col):
    return col / W


def fy(row):
    return 1 - row / H


x_dom = [fx(330), fx(5951)]
petrol_dom = [fy(1753), fy(493)]
diesel_dom = [fy(3222), fy(1963)]
strips = [[fy(493), fy(326)], [fy(1963), fy(1798)]]

fig = go.Figure()

series = [(nz_petrol, usa_petrol, "x", "y"), (nz_diesel, usa_diesel, "x2", "y2")]
for nz, us, xa, ya in series:
    for pts, col, name in [(nz, NZ_COL, "New Zealand"), (us, US_COL, "USA")]:
        fig.add_trace(go.Scatter(
            x=[p[0] for p in pts],
            y=[p[1] for p in pts],
            mode="lines",
            name=name,
            line=dict(color=col, width=10),
            xaxis=xa, yaxis=ya,
            showlegend=False,
            hoverinfo="skip",
        ))

tick_font = dict(family="Roboto", size=79 * F, color="#4D4D4D")
x_common = dict(
    range=[2003.19, 2027.71], domain=x_dom,
    tickmode="array", tickvals=x_tick_vals, ticktext=x_tick_text,
    showgrid=True, gridcolor=GRID, gridwidth=6,
    minor=dict(tickmode="linear", tick0=2002.5, dtick=2.5, showgrid=True,
               gridcolor=GRID, gridwidth=3.5, ticks=""),
    showline=True, mirror=True, linecolor=GREY70, linewidth=8,
    zeroline=False,
)
y_common = dict(
    range=[1.23, 8.86],
    tickmode="array", tickvals=y_tick_vals,
    showticklabels=False,
    showgrid=True, gridcolor=GRID, gridwidth=6,
    minor=dict(tickmode="linear", tick0=0, dtick=1, showgrid=True,
               gridcolor=GRID, gridwidth=3.5, ticks=""),
    showline=True, mirror=True, linecolor=GREY70, linewidth=8,
    zeroline=False,
    ticks="outside", ticklen=TICKLEN, tickwidth=5, tickcolor=GREY70,
)

fig.update_layout(
    autosize=True,
    margin=dict(l=0, r=0, t=0, b=0),
    paper_bgcolor="white", plot_bgcolor="white",
    font=dict(family="Roboto", color="black"),
    showlegend=False,
    xaxis=dict(**x_common, anchor="y", showticklabels=False, ticks=""),
    xaxis2=dict(**x_common, anchor="y2", matches="x",
                ticks="outside", ticklen=TICKLEN, tickwidth=5, tickcolor=GREY70,
                tickfont=tick_font, ticklabelstandoff=-10),
    yaxis=dict(**y_common, anchor="x", domain=petrol_dom),
    yaxis2=dict(**y_common, anchor="x2", domain=diesel_dom),
)

shapes = []
annotations = []

# y tick labels, placed a fixed pixel gap left of the panel edge
for yref in ["y", "y2"]:
    for v, t in zip(y_tick_vals, y_tick_text):
        annotations.append(dict(text=t, xref="paper", yref=yref, x=x_dom[0], y=v,
                                xanchor="right", yanchor="middle", xshift=-(TICKLEN + 14),
                                showarrow=False, font=tick_font))

# facet strips
for name, (y0, y1) in zip(panel_names, strips):
    shapes.append(dict(type="rect", xref="paper", yref="paper", x0=x_dom[0], x1=x_dom[1],
                       y0=y0, y1=y1, fillcolor=GREY70, line=dict(width=0)))
    annotations.append(dict(text="<b>" + name + "</b>", xref="paper", yref="paper",
                            x=(x_dom[0] + x_dom[1]) / 2, y=(y0 + y1) / 2 + 4 / H,
                            xanchor="center", yanchor="middle", showarrow=False,
                            font=dict(family="Roboto", size=93 * F, color="white")))

for txt, ex, ey in zip(event_text, event_year, event_price):
    annotations.append(dict(text="<i>" + txt + "</i>", xref="x", yref="y", x=ex, y=ey,
                            xanchor="center", yanchor="middle", showarrow=False,
                            font=dict(family="Roboto", size=68 * F, color="#666666")))

title = ("Retail petrol and diesel prices 2004-2026, "
         "<b><span style='color:#0000FF'>New Zealand</span></b> vs "
         "<b><span style='color:#FF0000'>USA</span></b>, (USD/gallon).")
annotations.append(dict(text=title, xref="paper", yref="paper", x=x_dom[0], y=fy(78),
                        xanchor="left", yanchor="middle", showarrow=False,
                        font=dict(family="Noto Sans", size=108 * F, color="black")))
annotations.append(dict(
    text="New Zealand prices include petrol excise, GST and other taxes but exclude diesel fuel excise.",
    xref="paper", yref="paper", x=x_dom[0], y=fy(225), xanchor="left", yanchor="middle",
    showarrow=False, font=dict(family="Roboto", size=93 * F, color="black")))
annotations.append(dict(text="Price (USD per gallon)", xref="paper", yref="paper",
                        x=x_dom[0], y=fy(1857), xanchor="center", yanchor="middle",
                        xshift=-(TICKLEN + 14 + 75 + 52),
                        textangle=-90, showarrow=False,
                        font=dict(family="Roboto", size=70, color="black")))
annotations.append(dict(text="Source: New Zealand MBIE, USA EIA", xref="paper", yref="paper",
                        x=x_dom[1], y=fy(3512), xanchor="right", yanchor="middle", showarrow=False,
                        font=dict(family="Roboto", size=76 * F, color="#7F7F7F")))

fig.update_layout(shapes=shapes, annotations=annotations)

fig.write_html("out.html")
